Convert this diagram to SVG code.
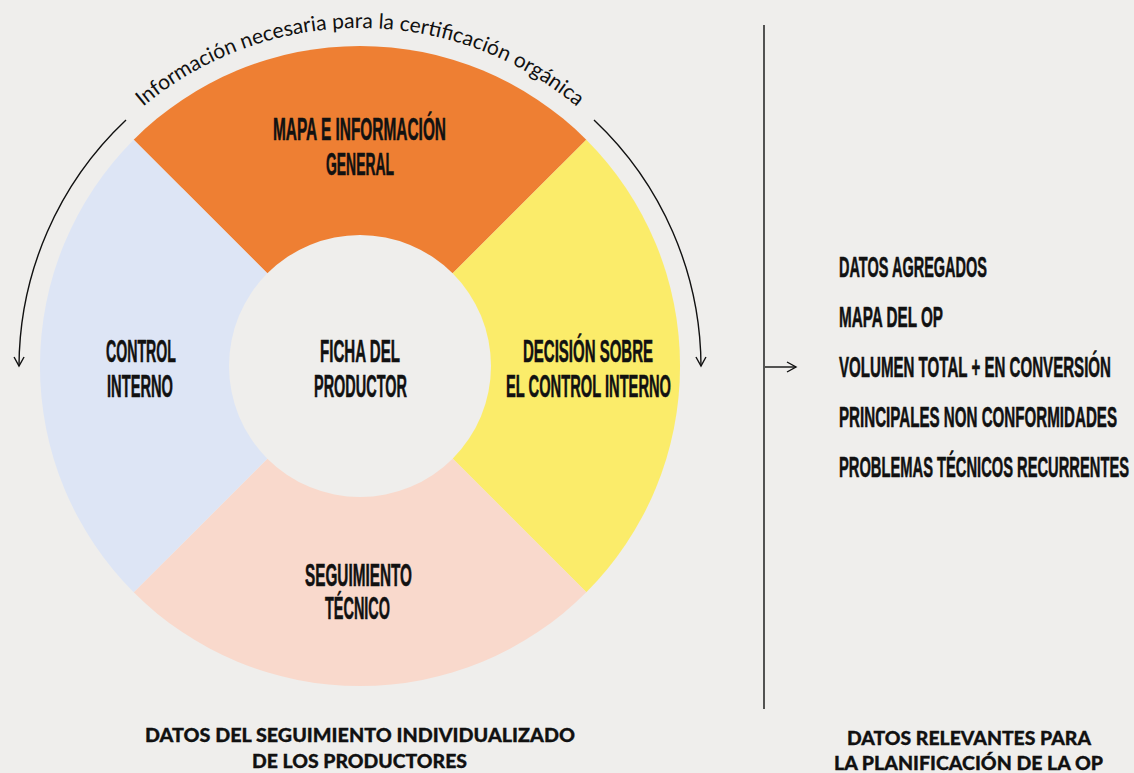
<svg xmlns="http://www.w3.org/2000/svg" width="1134" height="773" viewBox="0 0 1134 773">
<style>
.cond{font-family:"Liberation Sans",Arial,sans-serif;font-weight:bold;font-size:32px;fill:#111;stroke:#111;stroke-width:0.6;}
.list{font-family:"Liberation Sans",Arial,sans-serif;font-weight:bold;font-size:30px;fill:#111;stroke:#111;stroke-width:0.6;}
.foot{font-family:Lato,"Liberation Sans",sans-serif;font-weight:900;font-size:19px;fill:#111;stroke:#111;stroke-width:0.3;}
.arc{font-family:Lato,"Open Sans",sans-serif;font-size:21px;fill:#111;}
.line{fill:none;stroke:#111;stroke-width:1.4;}
</style>
<defs>
<marker id="chev" viewBox="0 0 12 12" refX="10" refY="6" markerWidth="12" markerHeight="12" markerUnits="userSpaceOnUse" orient="auto">
<path d="M1,1 L10,6 L1,11" fill="none" stroke="#111" stroke-width="1.4"/>
</marker>
<path id="textarc" d="M121,127 A338,338 0 0 1 599,127"/>
</defs>
<rect width="1134" height="773" fill="#efeeec"/>
<g id="sector-top"><path d="M360,366 L133.7,139.7 A320,320 0 0 1 586.3,139.7 Z" fill="#ee7f33"/>
<text class="cond" x="359.5" y="140" text-anchor="middle" textLength="173" lengthAdjust="spacingAndGlyphs">MAPA E INFORMACIÓN</text>
<text class="cond" x="360" y="175" text-anchor="middle" textLength="68" lengthAdjust="spacingAndGlyphs">GENERAL</text></g>
<g id="sector-right"><path d="M360,366 L586.3,139.7 A320,320 0 0 1 586.3,592.3 Z" fill="#fbec6a"/>
<text class="cond" x="588" y="362" text-anchor="middle" textLength="130" lengthAdjust="spacingAndGlyphs">DECISIÓN SOBRE</text>
<text class="cond" x="588.5" y="397" text-anchor="middle" textLength="165" lengthAdjust="spacingAndGlyphs">EL CONTROL INTERNO</text></g>
<g id="sector-bottom"><path d="M360,366 L586.3,592.3 A320,320 0 0 1 133.7,592.3 Z" fill="#f9d9cc"/>
<text class="cond" x="358.5" y="586" text-anchor="middle" textLength="107" lengthAdjust="spacingAndGlyphs">SEGUIMIENTO</text>
<text class="cond" x="357.5" y="619" text-anchor="middle" textLength="65" lengthAdjust="spacingAndGlyphs">TÉCNICO</text></g>
<g id="sector-left"><path d="M360,366 L133.7,592.3 A320,320 0 0 1 133.7,139.7 Z" fill="#dde5f5"/>
<text class="cond" x="141" y="362" text-anchor="middle" textLength="70" lengthAdjust="spacingAndGlyphs">CONTROL</text>
<text class="cond" x="140" y="397" text-anchor="middle" textLength="66" lengthAdjust="spacingAndGlyphs">INTERNO</text></g>
<g id="center"><circle cx="360" cy="366" r="131" fill="#efeeec"/>
<text class="cond" x="360" y="362" text-anchor="middle" textLength="80" lengthAdjust="spacingAndGlyphs">FICHA DEL</text>
<text class="cond" x="360.5" y="397" text-anchor="middle" textLength="93" lengthAdjust="spacingAndGlyphs">PRODUCTOR</text></g>
<g id="arc-label"><text class="arc"><textPath href="#textarc" startOffset="50%" text-anchor="middle" textLength="471" lengthAdjust="spacingAndGlyphs">Información necesaria para la certificación orgánica</textPath></text></g>
<g id="connectors">
<path class="line" d="M126,120 A340,340 0 0 0 19,366" marker-end="url(#chev)"/>
<path class="line" d="M594,120 A340,340 0 0 1 701,366" marker-end="url(#chev)"/>
<line class="line" x1="764" y1="25" x2="764" y2="709"/>
<line class="line" x1="765" y1="367" x2="796" y2="367" marker-end="url(#chev)"/>
</g>
<g id="list">
<text class="list" x="839" y="277" textLength="148" lengthAdjust="spacingAndGlyphs">DATOS AGREGADOS</text>
<text class="list" x="839" y="327" textLength="104" lengthAdjust="spacingAndGlyphs">MAPA DEL OP</text>
<text class="list" x="839" y="377" textLength="272" lengthAdjust="spacingAndGlyphs">VOLUMEN TOTAL + EN CONVERSIÓN</text>
<text class="list" x="839" y="427" textLength="278" lengthAdjust="spacingAndGlyphs">PRINCIPALES NON CONFORMIDADES</text>
<text class="list" x="839" y="477" textLength="290" lengthAdjust="spacingAndGlyphs">PROBLEMAS TÉCNICOS RECURRENTES</text>
</g>
<g id="footer-left">
<text class="foot" x="360" y="742" text-anchor="middle" textLength="430" lengthAdjust="spacingAndGlyphs">DATOS DEL SEGUIMIENTO INDIVIDUALIZADO</text>
<text class="foot" x="359.5" y="768" text-anchor="middle" textLength="215" lengthAdjust="spacingAndGlyphs">DE LOS PRODUCTORES</text>
</g>
<g id="footer-right">
<text class="foot" x="969" y="745" text-anchor="middle" textLength="244" lengthAdjust="spacingAndGlyphs">DATOS RELEVANTES PARA</text>
<text class="foot" x="968.5" y="770" text-anchor="middle" textLength="269" lengthAdjust="spacingAndGlyphs">LA PLANIFICACIÓN DE LA OP</text>
</g>
</svg>
